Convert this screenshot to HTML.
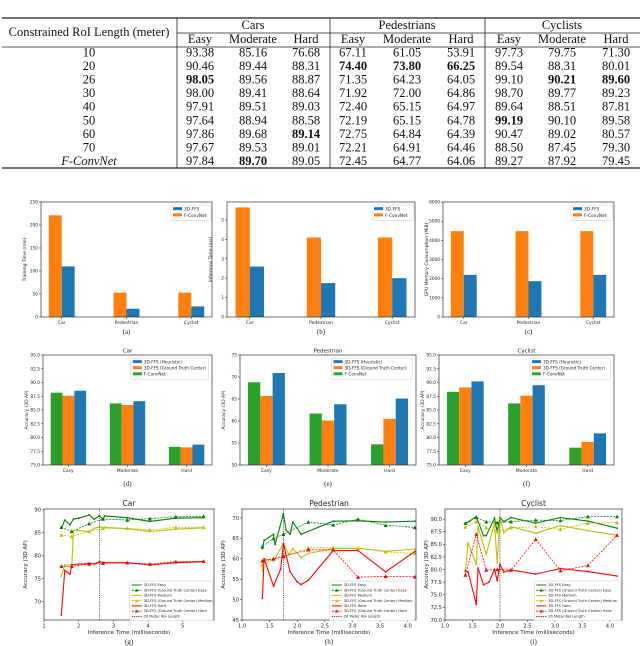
<!DOCTYPE html>
<html><head><meta charset="utf-8"><style>
html,body{margin:0;padding:0;background:#fff;}
svg{display:block;}
</style></head>
<body>
<svg id="fig" width="640" height="646" viewBox="0 0 640 646" xmlns="http://www.w3.org/2000/svg"></svg>
<script>
// ===== Table data =====
const tableRows = ["10","20","26","30","40","50","60","70","F-ConvNet"];
const tableVals = [
 ["93.38","85.16","76.68","67.11","61.05","53.91","97.73","79.75","71.30"],
 ["90.46","89.44","88.31","74.40","73.80","66.25","89.54","88.31","80.01"],
 ["98.05","89.56","88.87","71.35","64.23","64.05","99.10","90.21","89.60"],
 ["98.00","89.41","88.64","71.92","72.00","64.86","98.70","89.77","89.23"],
 ["97.91","89.51","89.03","72.40","65.15","64.97","89.64","88.51","87.81"],
 ["97.64","88.94","88.58","72.19","65.15","64.78","99.19","90.10","89.58"],
 ["97.86","89.68","89.14","72.75","64.84","64.39","90.47","89.02","80.57"],
 ["97.67","89.53","89.01","72.21","64.91","64.46","88.50","87.45","79.30"],
 ["97.84","89.70","89.05","72.45","64.77","64.06","89.27","87.92","79.45"]];
const boldCells = ["2,0","6,2","8,1","1,3","1,4","1,5","2,7","2,8","5,6"];
// ===== Bar chart data =====
const barCats1 = ["Car","Pedestrian","Cyclist"];
const trainFConv = [221, 53, 53];
const trainFFS = [110, 18, 23];
const inferFConv = [5.65, 4.1, 4.1];
const inferFFS = [2.6, 1.75, 2.0];
const memFConv = [4480, 4480, 4480];
const memFFS = [2200, 1870, 2200];
const trainTicks = [0,50,100,150,200,250];
const inferTicks = [0,1,2,3,4,5];
const memTicks = [0,1000,2000,3000,4000,5000,6000];
const barCats2 = ["Easy","Moderate","Hard"];
const carFConv = [88.15, 86.2, 78.3];
const carGT = [87.6, 85.9, 78.2];
const carHeur = [88.5, 86.6, 78.7];
const pedFConv = [68.8, 61.7, 54.7];
const pedGT = [65.7, 60.1, 60.5];
const pedHeur = [70.9, 63.8, 65.1];
const cycFConv = [88.3, 86.2, 78.15];
const cycGT = [89.1, 87.6, 79.2];
const cycHeur = [90.2, 89.5, 80.75];
const accTicksCar = [75.0,77.5,80.0,82.5,85.0,87.5,90.0,92.5,95.0];
const accTicksPed = [50,55,60,65,70,75];
// ===== Line chart data =====
const carEasyX = [1.5,1.6,1.75,1.85,2.0,2.3,2.45,2.6,2.7,2.75,3.4,4.05,4.8,5.6];
const carEasyY = [86,87.8,86.8,88.0,88.2,88.9,88.0,88.7,88.0,88.7,88.3,87.5,88.2,88.3];
const carGTX = [1.5,1.8,2.3,2.7,3.4,4.05,4.8,5.6];
const carGTEasyY = [86.2,85.3,87.0,88.0,87.8,88.1,88.5,88.6];
const carMedX = [1.5,1.6,1.8,1.85,2.0,2.3,2.45,2.6,2.75,3.4,4.05,4.8,5.6];
const carMedY = [75.6,78.0,78.0,85.6,85.5,85.3,86.0,86.3,86.2,85.9,85.3,85.8,86.1];
const carGTMedY = [84.5,84.2,85.3,86.0,86.0,85.6,86.2,86.2];
const carHardX = [1.5,1.6,1.75,1.8,2.0,2.2,2.3,2.45,2.6,2.75,3.4,4.05,4.8,5.6];
const carHardY = [67.1,76.8,76.0,78.0,78.2,78.2,78.4,78.2,78.7,78.5,78.5,78.0,78.5,78.7];
const carGTHardY = [77.7,77.7,78.2,78.4,78.5,78.2,78.7,78.8];
const pedEasyX = [1.37,1.4,1.57,1.6,1.75,1.8,1.87,1.92,2.07,2.65,3.1,3.6,4.13];
const pedEasyY = [62.5,64.5,66,63.5,71,67,66,69,66,69.2,69.3,69,69.2];
const pedGTX = [1.37,1.57,1.75,2.2,2.65,3.1,3.6,4.13];
const pedGTEasyY = [63,65,66,69,68.3,69.7,68.2,67.7];
const pedMedX = [1.37,1.4,1.57,1.75,1.85,1.92,2.07,2.2,2.65,3.1,3.6,4.13];
const pedMedY = [57,60,59.5,63.7,61,62.5,60.3,61.3,62.5,62.6,61.8,62.4];
const pedGTMedY = [58.5,60,60.5,62.7,62.7,62.6,61.7,61.3];
const pedHardX = [1.37,1.4,1.57,1.7,1.75,1.87,2.0,2.07,2.2,2.65,3.1,3.6,4.13];
const pedHardY = [50.3,60,53.3,57.5,63.7,56.8,54.3,53.7,54.7,62,62,56.8,61.8];
const pedGTHardY = [59.5,60,60.6,62.2,62.2,55.5,55.7,55.6];
const cycEasyX = [1.37,1.45,1.57,1.7,1.75,1.9,1.95,2.0,2.07,2.2,2.65,3.1,3.6,4.13];
const cycEasyY = [89,89.6,90.5,86.7,86.7,90.2,87.5,90.3,89.5,90.3,89.2,90.3,89.6,88.2];
const cycGTX = [1.37,1.57,1.75,1.95,2.2,2.65,3.1,3.6,4.13];
const cycGTEasyY = [89.2,90.3,89.5,89.3,89.5,89.8,89.7,90.5,90.5];
const cycMedX = [1.37,1.42,1.57,1.6,1.75,1.9,1.95,2.0,2.07,2.2,2.65,3.1,3.6,4.13];
const cycMedY = [79.5,85.3,81,88.5,83,89.2,81.3,90.2,87.3,88.5,87.2,88.7,87.7,86.8];
const cycGTMedY = [88.4,89.5,88.3,87.5,88.3,88.5,88.0,89.2,89.3];
const cycHardX = [1.37,1.42,1.57,1.6,1.7,1.8,1.9,1.95,2.0,2.07,2.2,2.65,3.1,3.6,4.13];
const cycHardY = [79.8,79.5,73.1,80.3,77,77.5,80,77.8,81,79.5,79.9,79.1,80.2,79.6,78.7];
const cycGTHardY = [78.9,87,79.9,80,79.9,86,79.8,80.8,86.8];
const carTicksX = [1,2,3,4,5];
const carTicksY = [70,75,80,85,90];
const pedTicksX = [1.0,1.5,2.0,2.5,3.0,3.5,4.0];
const pedTicksY = [45,50,55,60,65,70];
const cycTicksY = [70.0,72.5,75.0,77.5,80.0,82.5,85.0,87.5,90.0];
const roiCar = 2.6, roiPed = 1.75, roiCyc = 2.0;

const NS = "http://www.w3.org/2000/svg";
const fig = document.getElementById('fig');
function el(tag, attrs, parent, txt){
  const e = document.createElementNS(NS, tag);
  for (const k in attrs) e.setAttribute(k, attrs[k]);
  if (txt !== undefined) e.textContent = txt;
  (parent||fig).appendChild(e);
  return e;
}
const SANS = '"DejaVu Sans","Liberation Sans",sans-serif';
const SERIF = '"Liberation Serif",serif';

// ===== Table =====
(function(){
  const g = el('g', {});
  
  
  const L = (x1,y1,x2,y2,w)=>el('line',{x1,y1,x2,y2,stroke:'#222','stroke-width':w||0.8},g);
  L(2,18,640,18,1.2); L(177,33,640,33); L(2,47,640,47); L(2,168,640,168,1.2);
  [177,330,485].forEach(x=>L(x,18,x,168));
  const T = (x,y,t,extra)=>{const e=el('text',Object.assign({x,y,'text-anchor':'middle','font-family':SERIF,'font-size':12.5,fill:'#111'},extra||{}),g,t);return e;};
  const h = T(89,36,'Constrained RoI Length (meter)');
  
  
  const groups=["Cars","Pedestrians","Cyclists"], gx=[253,407,562];
  groups.forEach((s,i)=>{const t=T(gx[i],29,s);
    
    });
  const colX=[200,253,306,353,407,461,509,562,616], sub=["Easy","Moderate","Hard"];
  colX.forEach((x,i)=>{const t=T(x,43,sub[i%3]);
    
    });
  tableRows.forEach((r,ri)=>{
    const y = 56.5 + ri*13.55;
    const t=T(89,y,r, ri===8?{'font-style':'italic'}:{});
    
    
    tableVals[ri].forEach((v,ci)=>{
      const b = boldCells.indexOf(ri+','+ci)>=0;
      const c=T(colX[ci],y,v,b?{'font-weight':'bold'}:{});
      
      
    });
  });
})();

function axesFrame(g,x0,y0,x1,y1){
  el('rect',{x:x0,y:y0,width:x1-x0,height:y1-y0,fill:'none',stroke:'#333','stroke-width':0.7},g);
}
function yTicks(g,x0,ticks,sy,fs,fmt){
  ticks.forEach(t=>{
    const y=sy(t);
    el('line',{x1:x0-2,y1:y,x2:x0,y2:y,stroke:'#333','stroke-width':0.6},g);
    const tx=el('text',{x:x0-3,y:y+fs*0.35,'text-anchor':'end','font-family':SANS,'font-size':fs,fill:'#222'},g,fmt?fmt(t):String(t));
    
    
  });
}
function legend(g,x,y,w,entries,fs,lineStyle){
  const h = entries.length*fs*1.45+3;
  el('rect',{x,y,width:w,height:h,fill:'#fff',stroke:'#ccc','stroke-width':0.5,rx:1},g);
  entries.forEach((e,i)=>{
    const cy = y+2.5+fs*0.72+i*fs*1.45;
    const lg = el('g',{},g);
    
    
    if(lineStyle){
      el('line',{x1:x+2,y1:cy-fs*0.3,x2:x+12,y2:cy-fs*0.3,stroke:e.color,'stroke-width':1,'stroke-dasharray':e.dash||''},lg);
      if(e.marker) el('path',{d:`M${x+7-1.6},${cy-fs*0.3+1.4} L${x+7},${cy-fs*0.3-1.6} L${x+7+1.6},${cy-fs*0.3+1.4}Z`,fill:e.color},lg);
      el('text',{x:x+14,y:cy,'font-family':SANS,'font-size':fs,fill:'#222'},lg,e.label);
    } else {
      el('rect',{x:x+2,y:cy-fs*0.8,width:9,height:fs*0.7,fill:e.color},lg);
      el('text',{x:x+13,y:cy,'font-family':SANS,'font-size':fs,fill:'#222'},lg,e.label);
    }
  });
}

function barChart(o){
  const g = el('g',{});
  
  
  const sx = v=>o.x0+(v-o.xmin)/(o.xmax-o.xmin)*(o.x1-o.x0);
  const sy = v=>o.y1-(v-o.ymin)/(o.ymax-o.ymin)*(o.y1-o.y0);
  o.series.forEach((s,si)=>{
    s.vals.forEach((v,i)=>{
      const xa=sx(i+s.off), xb=sx(i+s.off+o.bw);
      const r=el('rect',{x:xa,y:sy(v),width:xb-xa,height:sy(o.ymin)-sy(v),fill:s.color},g);
      
      
    });
  });
  axesFrame(g,o.x0,o.y0,o.x1,o.y1);
  yTicks(g,o.x0,o.ticks,sy,4.3,o.fmt);
  o.cats.forEach((c,i)=>{
    const x=sx(i+o.labelOff);
    el('line',{x1:x,y1:o.y1,x2:x,y2:o.y1+2,stroke:'#333','stroke-width':0.6},g);
    const t=el('text',{x,y:o.y1+7,'text-anchor':'middle','font-family':SANS,'font-size':4.5,fill:'#222'},g,c);
    
    
  });
  const yl=el('text',{x:0,y:0,transform:`translate(${o.x0-15},${(o.y0+o.y1)/2}) rotate(-90)`,'text-anchor':'middle','font-family':SANS,'font-size':4.5,fill:'#222'},g,o.ylabel);
  
  
  if(o.title){const t=el('text',{x:(o.x0+o.x1)/2,y:o.y0-2.5,'text-anchor':'middle','font-family':SANS,'font-size':5.5,fill:'#222'},g,o.title);
    }
  legend(g,o.legX,o.y0+3,o.legW,o.legend,o.legFs,false);
  const cap=el('text',{x:(o.x0+o.x1)/2,y:o.capY,'text-anchor':'middle','font-family':SERIF,'font-size':7,fill:'#222'},g,o.cap);
  
  
}
const BLUE='#1f77b4', ORANGE='#ff7f0e', GREEN='#2ca02c';
const leg1=[{label:'3D-FFS',color:BLUE},{label:'F-ConvNet',color:ORANGE}];
barChart({name:'training-time-chart',x0:41,x1:212,y0:202,y1:317,xmin:-0.32,xmax:2.32,ymin:0,ymax:250,ticks:trainTicks,cats:barCats1,bw:0.2,labelOff:0,
  series:[{key:'fconvnet',vals:trainFConv,color:ORANGE,off:-0.2},{key:'3dffs',vals:trainFFS,color:BLUE,off:0}],
  ylabel:'Training Time (min)',legX:171,legW:40,legend:leg1,legFs:4.3,cap:'(a)',capY:334});
barChart({name:'inference-time-chart',x0:227,x1:415,y0:202,y1:317,xmin:-0.32,xmax:2.32,ymin:0,ymax:5.93,ticks:inferTicks,cats:barCats1,bw:0.2,labelOff:0,
  series:[{key:'fconvnet',vals:inferFConv,color:ORANGE,off:-0.2},{key:'3dffs',vals:inferFFS,color:BLUE,off:0}],
  ylabel:'Inference Time (ms)',legX:372,legW:42,legend:leg1,legFs:4.3,cap:'(b)',capY:334});
barChart({name:'gpu-memory-chart',x0:443,x1:614,y0:202,y1:317,xmin:-0.32,xmax:2.32,ymin:0,ymax:6000,ticks:memTicks,cats:barCats1,bw:0.2,labelOff:0,
  series:[{key:'fconvnet',vals:memFConv,color:ORANGE,off:-0.2},{key:'3dffs',vals:memFFS,color:BLUE,off:0}],
  ylabel:'GPU Memory Consumption (MiB)',legX:571,legW:42,legend:leg1,legFs:4.3,cap:'(c)',capY:334});
const leg2=[{label:'3D-FFS (Heuristic)',color:BLUE},{label:'3D-FFS (Ground Truth Center)',color:ORANGE},{label:'F-ConvNet',color:GREEN}];
const f1=t=>t.toFixed(1);
[[43,212,'Car',carFConv,carGT,carHeur,accTicksCar,75,95,f1,'(d)','car-accuracy-chart'],
 [240,416,'Pedestrian',pedFConv,pedGT,pedHeur,accTicksPed,50,75,null,'(e)','pedestrian-accuracy-chart'],
 [439,614,'Cyclist',cycFConv,cycGT,cycHeur,accTicksCar,75,95,f1,'(f)','cyclist-accuracy-chart']].forEach(c=>{
  barChart({name:c[11],x0:c[0],x1:c[1],y0:355,y1:465,xmin:-0.43,xmax:2.43,ymin:c[7],ymax:c[8],ticks:c[6],cats:barCats2,bw:0.2,labelOff:0,fmt:c[9],
   series:[{key:'fconvnet',vals:c[3],color:GREEN,off:-0.3},{key:'gt-center',vals:c[4],color:ORANGE,off:-0.1},{key:'heuristic',vals:c[5],color:BLUE,off:0.1}],
   title:c[2],ylabel:'Accuracy (3D AP)',legX:c[0]+(c[1]-c[0])*0.52,legW:(c[1]-c[0])*0.46,legend:leg2,legFs:4.2,cap:c[10],capY:486});
});

// ===== Line charts =====
function lineChart(o){
  const g = el('g',{});
  
  
  const sx = v=>o.x0+(v-o.xmin)/(o.xmax-o.xmin)*(o.x1-o.x0);
  const sy = v=>o.y1-(v-o.ymin)/(o.ymax-o.ymin)*(o.y1-o.y0);
  el('rect',{x:o.x0,y:o.y0,width:o.x1-o.x0,height:o.y1-o.y0,fill:'#fff'},g);
  o.series.forEach(s=>{
    const pts = s.xs.map((x,i)=>sx(x).toFixed(1)+','+sy(s.ys[i]).toFixed(1)).join(' ');
    const p=el('polyline',{points:pts,fill:'none',stroke:s.color,'stroke-width':s.dash?0.8:1.1,'stroke-dasharray':s.dash?'2,1.2':''},g);
    
    
    s.xs.forEach((x,i)=>{
      const cx=sx(x), cy=sy(s.ys[i]);
      if(s.marker){
        const m=el('path',{d:`M${cx-2},${cy+1.7} L${cx},${cy-2} L${cx+2},${cy+1.7}Z`,fill:s.color},g);
        
        
      } else {
        const m=el('circle',{cx,cy,r:0.9,fill:s.color},g);
        
        
      }
    });
  });
  const v=el('line',{x1:sx(o.roi),y1:o.y0,x2:sx(o.roi),y2:o.y1,stroke:'#333','stroke-width':0.7,'stroke-dasharray':'1.2,1'},g);
  
  
  axesFrame(g,o.x0,o.y0,o.x1,o.y1);
  yTicks(g,o.x0,o.yt,sy,5.2,o.fmtY);
  o.xt.forEach(t=>{
    const x=sx(t);
    el('line',{x1:x,y1:o.y1,x2:x,y2:o.y1+2,stroke:'#333','stroke-width':0.6},g);
    const tx=el('text',{x,y:o.y1+7.5,'text-anchor':'middle','font-family':SANS,'font-size':5.2,fill:'#222'},g,o.fmtX?o.fmtX(t):String(t));
    
    
  });
  const xl=el('text',{x:(o.x0+o.x1)/2,y:o.y1+14,'text-anchor':'middle','font-family':SANS,'font-size':5.6,fill:'#222'},g,'Inference Time (milliseconds)');
  
  const yl=el('text',{x:0,y:0,transform:`translate(${o.x0-17},${(o.y0+o.y1)/2}) rotate(-90)`,'text-anchor':'middle','font-family':SANS,'font-size':5.6,fill:'#222'},g,'Accuracy (3D AP)');
  
  const ti=el('text',{x:(o.x0+o.x1)/2,y:o.y0-3,'text-anchor':'middle','font-family':SANS,'font-size':7.5,fill:'#222'},g,o.title);
  
  const lw=(o.x1-o.x0)*0.49;
  legend(g,o.x1-lw-1,o.y1-39,lw,[
    {label:'3D-FFS Easy',color:'#008000'},
    {label:'3D-FFS (Ground Truth Center) Easy',color:'#008000',dash:'2,1',marker:1},
    {label:'3D-FFS Medium',color:'#bfbf00'},
    {label:'3D-FFS (Ground Truth Center) Medium',color:'#bfbf00',dash:'2,1',marker:1},
    {label:'3D-FFS Hard',color:'#ff0000'},
    {label:'3D-FFS (Ground Truth Center) Hard',color:'#ff0000',dash:'2,1',marker:1},
    {label:'26 Meter RoI Length',color:'#333',dash:'1.2,1'}],3.6,true);
  const cap=el('text',{x:(o.x0+o.x1)/2,y:644,'text-anchor':'middle','font-family':SERIF,'font-size':7,fill:'#222'},g,o.cap);
  
}
const G='#008000', Y='#bfbf00', R='#ff0000';
function ser(ex,ey,gx,gey,mx,my,gmy,hx,hy,ghy){
  return [
   {key:'easy',xs:ex,ys:ey,color:G},{key:'gt-easy',xs:gx,ys:gey,color:G,dash:1,marker:1},
   {key:'medium',xs:mx,ys:my,color:Y},{key:'gt-medium',xs:gx,ys:gmy,color:Y,dash:1,marker:1},
   {key:'hard',xs:hx,ys:hy,color:R},{key:'gt-hard',xs:gx,ys:ghy,color:R,dash:1,marker:1}];
}
lineChart({name:'car-tradeoff-chart',x0:44,x1:214,y0:509,y1:620,xmin:1,xmax:5.9,ymin:66,ymax:90.2,xt:carTicksX,yt:carTicksY,roi:roiCar,title:'Car',cap:'(g)',
  series:ser(carEasyX,carEasyY,carGTX,carGTEasyY,carMedX,carMedY,carGTMedY,carHardX,carHardY,carGTHardY)});
lineChart({name:'pedestrian-tradeoff-chart',x0:242,x1:416,y0:509,y1:620,xmin:1,xmax:4.15,ymin:45,ymax:72.2,xt:pedTicksX,yt:pedTicksY,roi:roiPed,title:'Pedestrian',cap:'(h)',fmtX:f1,
  series:ser(pedEasyX,pedEasyY,pedGTX,pedGTEasyY,pedMedX,pedMedY,pedGTMedY,pedHardX,pedHardY,pedGTHardY)});
lineChart({name:'cyclist-tradeoff-chart',x0:445,x1:622,y0:509,y1:620,xmin:1,xmax:4.22,ymin:70,ymax:92,xt:pedTicksX,yt:cycTicksY,roi:roiCyc,title:'Cyclist',cap:'(i)',fmtX:f1,fmtY:f1,
  series:ser(cycEasyX,cycEasyY,cycGTX,cycGTEasyY,cycMedX,cycMedY,cycGTMedY,cycHardX,cycHardY,cycGTHardY)});
</script>
</body></html>
